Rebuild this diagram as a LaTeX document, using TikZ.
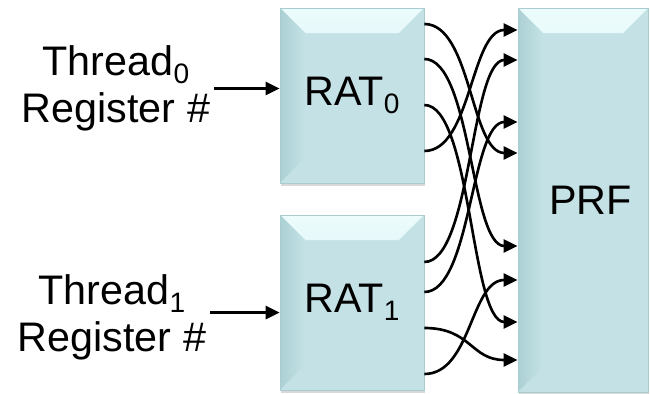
\documentclass[tikz,border=0pt]{standalone}
\usepackage{fontspec}
\setmainfont{Liberation Sans}
\usetikzlibrary{arrows.meta,shadows}
\definecolor{RATFill}{RGB}{196,226,229}
\definecolor{RATEdge}{RGB}{168,204,208}
\definecolor{RATLight}{RGB}{236,252,253}
\definecolor{RATDark}{RGB}{172,208,212}

\newcommand{\regsub}[1]{\raisebox{-0.2em}{\fontsize{16pt}{16pt}\selectfont #1}}

\tikzset{
  rfbox/.style={draw=RATEdge, line width=0.4pt, fill=RATFill,
    drop shadow={shadow xshift=0.6pt, shadow yshift=-1.6pt, opacity=0.3},
    font=\fontsize{23.5pt}{26pt}\selectfont,
    path picture={
      \shade[top color=RATLight, bottom color=RATFill]
        (path picture bounding box.north west) -- (path picture bounding box.north east)
        -- ([xshift=-0.5cm,yshift=-0.5cm]path picture bounding box.north east)
        -- ([xshift=0.5cm,yshift=-0.5cm]path picture bounding box.north west) -- cycle;
      \shade[left color=RATDark, right color=RATFill]
        (path picture bounding box.north west) -- ([xshift=0.5cm,yshift=-0.5cm]path picture bounding box.north west)
        -- ([xshift=0.5cm,yshift=0.5cm]path picture bounding box.south west)
        -- (path picture bounding box.south west) -- cycle;
    }},
  label/.style={align=center, inner sep=2pt, font=\fontsize{23.5pt}{27pt}\selectfont},
  feed/.style={-{Triangle[length=0.28cm,width=0.26cm]}, line width=1.5pt},
  wire/.style={-{Triangle[length=0.28cm,width=0.26cm]}, line width=1.5pt}
}

\begin{document}
\begin{tikzpicture}[x=0.02cm, y=-0.02cm]
    \useasboundingbox (0,0) rectangle (650,394);

    \node (rat0) [rfbox, minimum width=2.88cm, minimum height=3.5cm] at (352,95.5) {RAT\regsub{0}};
    \node (rat1) [rfbox, minimum width=2.88cm, minimum height=3.5cm] at (352,302.5) {RAT\regsub{1}};
    \node (prf) [rfbox, minimum width=2.6cm, minimum height=7.68cm] at (583,200) {\hspace{0.3cm}PRF};

    \node (thread0) [label] at (116,88.5) {Thread\regsub{0}\\Register \#};
    \node (thread1) [label] at (112,317.5) {Thread\regsub{1}\\Register \#};

    % register number into each RAT
    \draw[feed] (thread0.east) -- (thread0.east -| rat0.west);
    \coordinate (in1) at ([yshift=2.8pt]thread1.east);
    \draw[feed] (in1) -- (in1 -| rat1.west);

    % ports
    \foreach \y [count=\i] in {24,59,105,151}
        \coordinate (r0o\i) at (rat0.east |- 0,\y);
    \foreach \y [count=\i] in {262,292,328,374}
        \coordinate (r1o\i) at (rat1.east |- 0,\y);
    \foreach \y [count=\i] in {30,60,122,153,246,280,322,360}
        \coordinate (p\i) at (prf.west |- 0,\y);

    % mappings into the PRF
    \foreach \a/\b in {r0o1/p4, r0o2/p5, r0o3/p7, r0o4/p1, r1o1/p2, r1o2/p3, r1o3/p8, r1o4/p6}
        \draw[wire] (\a) .. controls +(47,0) and +(-47,0) .. (\b);
\end{tikzpicture}
\end{document}
